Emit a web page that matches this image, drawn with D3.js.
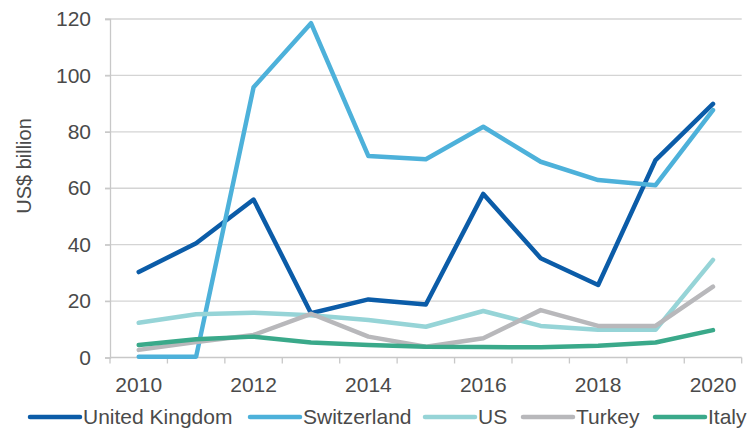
<!DOCTYPE html>
<html><head><meta charset="utf-8">
<script src="https://cdn.jsdelivr.net/npm/d3@7"></script>
<style>body{margin:0;background:#fff}svg{display:block;font-family:"Liberation Sans",Arial,sans-serif}</style>
</head><body><svg id="c" width="753" height="429"></svg>
<script>
const years = [2010,2011,2012,2013,2014,2015,2016,2017,2018,2019,2020];
const tickLabels = ["2010","2012","2014","2016","2018","2020"];
const yTicks = [0,20,40,60,80,100,120];
const seriesNames = ["United Kingdom","Switzerland","US","Turkey","Italy"];
const seriesColors = ["#0b5ca8","#4db1da","#96d4d7","#b8b8bb","#3aa98a"];
const ukValues = [30.3,40.5,56,15.7,20.6,18.8,58,35.2,25.7,70,89.9];
const switzerlandValues = [0.3,0.3,95.8,118.5,71.4,70.3,81.8,69.4,62.9,61.1,87.7];
const usValues = [12.3,15.3,15.9,15,13.3,10.9,16.5,11.2,9.8,9.8,34.6];
const turkeyValues = [2.7,5.5,8,15.5,7.4,3.8,6.8,16.8,11.2,11.2,25.1];
const italyValues = [4.4,6.5,7.4,5.3,4.4,3.8,3.7,3.6,4.2,5.3,9.7];
const allValues = [ukValues,switzerlandValues,usValues,turkeyValues,italyValues];

const svg = d3.select("#c");
const pLeft = 110, pRight = 741.7, pTop = 19, pBottom = 357.5;
const x = d3.scaleBand().domain(years).range([pLeft,pRight]);
const y = d3.scaleLinear().domain([0,120]).range([pBottom,pTop]);
const textColor = "#4a4a4a";
const fs = 21;

// gridlines
svg.append("g").selectAll("line").data(yTicks.filter(d=>d>0)).join("line")
  .attr("x1",pLeft-5).attr("x2",pRight).attr("y1",d=>y(d)).attr("y2",d=>y(d))
  .attr("stroke","#d4d4d4").attr("stroke-width",1.3);

// y axis
const yAxis = svg.append("g").attr("transform",`translate(${pLeft},0)`)
  .call(d3.axisLeft(y).tickValues(yTicks).tickSize(5).tickPadding(14));
yAxis.select(".domain").attr("stroke","#c8c8c8").attr("stroke-width",1.3);
yAxis.selectAll(".tick line").attr("stroke","#c8c8c8").attr("stroke-width",1.3);
yAxis.selectAll("text").attr("font-size",fs).attr("fill",textColor).attr("font-family","Liberation Sans, Arial, sans-serif");

// x axis
const xAxisG = svg.append("g").attr("transform",`translate(0,${pBottom})`);
xAxisG.append("line").attr("x1",pLeft).attr("x2",pRight).attr("stroke","#c8c8c8").attr("stroke-width",1.3);
const bounds = d3.range(years.length+1).map(i=> i<years.length ? x(years[i]) : x(years[years.length-1])+x.bandwidth());
xAxisG.selectAll("line.t").data(bounds).join("line").attr("class","t")
  .attr("x1",d=>d).attr("x2",d=>d).attr("y1",0).attr("y2",6)
  .attr("stroke","#c8c8c8").attr("stroke-width",1.3);
xAxisG.selectAll("text").data(tickLabels).join("text")
  .attr("x",d=>x(+d)+x.bandwidth()/2).attr("y",34)
  .attr("text-anchor","middle").attr("font-size",fs).attr("fill",textColor).text(d=>d);

// y title
svg.append("text").attr("transform","translate(31,166) rotate(-90)")
  .attr("text-anchor","middle").attr("font-size",20).attr("fill",textColor).text("US$ billion");

// lines
const line = d3.line().x((d,i)=>x(years[i])+x.bandwidth()/2).y(d=>y(d)).curve(d3.curveLinear);
svg.append("g").selectAll("path").data(allValues).join("path")
  .attr("d",d=>line(d)).attr("fill","none")
  .attr("stroke",(d,i)=>seriesColors[i]).attr("stroke-width",4.5)
  .attr("stroke-linejoin","round").attr("stroke-linecap","round");

// legend
const legX = [30,250,425,523,655];
const lg = svg.append("g").attr("transform","translate(0,417)");
seriesNames.forEach((n,i)=>{
  lg.append("line").attr("x1",legX[i]).attr("x2",legX[i]+50).attr("y1",0).attr("y2",0)
    .attr("stroke",seriesColors[i]).attr("stroke-width",4.5).attr("stroke-linecap","round");
  lg.append("text").attr("x",legX[i]+53).attr("y",0).attr("dy","0.35em")
    .attr("font-size",fs).attr("fill",textColor).text(n);
});
</script></body></html>
